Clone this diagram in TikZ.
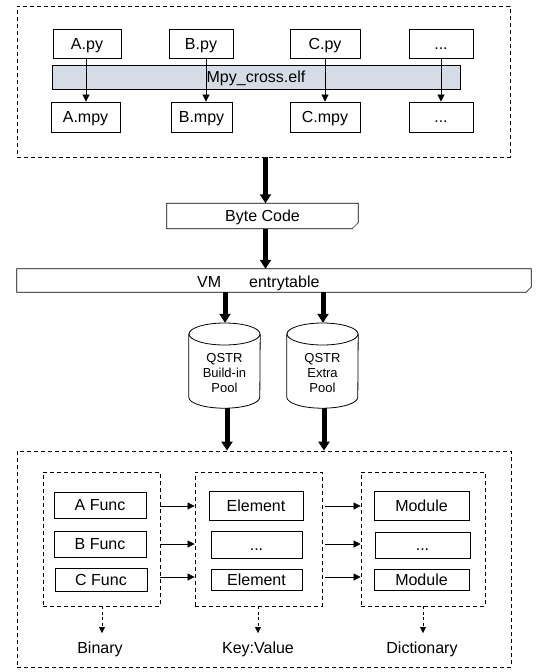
\documentclass[tikz,border=0pt]{standalone}
\usepackage{fontspec}
\setmainfont{Liberation Sans}
\usetikzlibrary{arrows.meta}
\definecolor{barfill}{HTML}{D6DCE5}
\tikzset{
  txt16/.style={font=\fontsize{16}{18}\selectfont, text height=11.5pt, text depth=0pt},
  box/.style={draw, line width=0.8pt, inner sep=0pt, txt16},
  dbox/.style={draw, dashed, dash pattern=on 4pt off 3pt, line width=0.8pt, inner sep=0pt},
  thin arrow/.style={line width=0.7pt, -{Triangle[width=7pt,length=7pt]}},
  thick arrow/.style={line width=5pt, -{Triangle[width=11pt,length=9pt]}},
  dash arrow/.style={line width=0.7pt, dash pattern=on 3pt off 2.5pt, -{Triangle[width=6pt,length=6pt]}},
  lbl/.style={txt16, inner sep=0pt},
  cyltxt/.style={font=\fontsize{13}{15}\selectfont, align=center, inner sep=0pt}
}
\newcommand{\bx}[6]{\node[box, minimum width=#4-#2, minimum height=#5-#3] (#1) at ({(#2+#4)/2},{(#3+#5)/2}) {#6};}
\newcommand{\dbx}[5]{\node[dbox, minimum width=#4-#2, minimum height=#5-#3] (#1) at ({(#2+#4)/2},{(#3+#5)/2}) {};}
\begin{document}
\begin{tikzpicture}[x=1pt,y=-1pt]
\useasboundingbox (0,0) rectangle (544,672);
% top group
\dbx{topgrp}{17}{6}{510}{157}
\node[draw, fill=barfill, line width=0.8pt, minimum width=408, minimum height=24, inner sep=0pt, txt16] (bar) at (256,77) {Mpy\_cross.elf};
\bx{apy}{53}{29}{121}{58}{A.py}
\bx{bpy}{169}{29}{233}{58}{B.py}
\bx{cpy}{290}{29}{360}{58}{C.py}
\bx{dpy}{409}{29}{473}{58}{...}
\bx{ampy}{51}{102}{120}{132}{A.mpy}
\bx{bmpy}{171}{102}{232}{132}{B.mpy}
\bx{cmpy}{290}{102}{360}{132}{C.mpy}
\bx{dmpy}{409}{102}{473}{132}{...}
\draw[thin arrow] (apy.south -| 86,0) -- (ampy.north -| 86,0);
\draw[thin arrow] (bpy.south -| 206,0) -- (bmpy.north -| 206,0);
\draw[thin arrow] (cpy.south -| 325,0) -- (cmpy.north -| 325,0);
\draw[thin arrow] (dpy.south -| 441,0) -- (dmpy.north -| 441,0);
% byte code
\node[inner sep=0pt, minimum width=191, minimum height=25, txt16] (bc) at (262.5,216) {Byte Code};
\draw[line width=0.8pt] (bc.north west) -- (bc.north east) -- ([yshift=6pt]bc.south east) -- ([xshift=-6pt]bc.south east) -- (bc.south west) -- cycle;
\fill[gray!60] ([yshift=6pt]bc.south east) -- ([xshift=-6pt]bc.south east) -- ([xshift=-2pt,yshift=3pt]bc.south east) -- cycle;
% entry table
\node[inner sep=0pt, minimum width=514, minimum height=23] (et) at (274,280.5) {};
\draw[line width=0.8pt] (et.north west) -- (et.north east) -- ([yshift=5pt]et.south east) -- ([xshift=-5pt]et.south east) -- (et.south west) -- cycle;
\fill[gray!60] ([yshift=5pt]et.south east) -- ([xshift=-5pt]et.south east) -- ([xshift=-1.5pt,yshift=2.5pt]et.south east) -- cycle;
\node[lbl, anchor=west] (ettxt) at (197,282) {VM\hspace{28pt}entrytable};
\draw[thick arrow] (topgrp.south -| 265.5,0) -- (bc.north -| 265.5,0);
\draw[thick arrow] (bc.south -| 265.5,0) -- (et.north -| 265.5,0);
% cylinders
\foreach \n/\cx/\t in {cyla/224.5/{QSTR\\Build-in\\Pool}, cylb/322.5/{QSTR\\Extra\\Pool}}{
  \node[inner sep=0pt, minimum width=71, minimum height=85] (\n) at (\cx,365.5) {};
  \draw[line width=0.8pt] (\cx,334) ellipse[x radius=35.5, y radius=11];
  \draw[line width=0.8pt] ([yshift=-11pt]\n.north west) -- ([yshift=11pt]\n.south west) arc[start angle=180, end angle=0, x radius=35.5, y radius=11] -- ([yshift=-11pt]\n.north east);
  \node[cyltxt] (\n txt) at (\cx,373) {\t};
}
\draw[thick arrow] (et.south -| 225,0) -- (cyla.north -| 225,0);
\draw[thick arrow] (et.south -| 323,0) -- (cylb.north -| 323,0);
% bottom group
\dbx{botgrp}{17}{451}{511}{667}
\draw[thick arrow] (cyla.south -| 227,0) -- (botgrp.north -| 227,0);
\draw[thick arrow] (cylb.south -| 324,0) -- (botgrp.north -| 324,0);
\dbx{g1}{43}{472}{160}{606}
\dbx{g2}{195}{472}{322}{606}
\dbx{g3}{361}{472}{485}{606}
\bx{af}{54}{492}{146}{518}{A Func}
\bx{bf}{54}{531}{146}{557}{B Func}
\bx{cf}{55}{568}{147}{591}{C Func}
\bx{e1}{209}{491}{303}{520}{Element}
\bx{e2}{211}{531}{302}{558}{...}
\bx{e3}{211}{569}{302}{590}{Element}
\bx{m1}{374}{491}{469}{520}{Module}
\bx{m2}{375}{532}{470}{558}{...}
\bx{m3}{374}{569}{469}{590}{Module}
\foreach \y in {506,544,577}{
  \draw[thin arrow] (g1.east |- 0,\y) -- (g2.west |- 0,\y);
  \draw[thin arrow] (g2.east |- 0,\y) ++(3,0) -- (g3.west |- 0,\y);
}
\node[lbl] (bin) at (100,648) {Binary};
\node[lbl] (kv) at (258,648) {Key:Value};
\node[lbl] (dict) at (422,648) {Dictionary};
\draw[dash arrow] (g1.south -| 102,0) -- ([yshift=9pt]bin.north -| 102,0);
\draw[dash arrow] (g2.south -| 258,0) -- ([yshift=9pt]kv.north -| 258,0);
\draw[dash arrow] (g3.south -| 423,0) -- ([yshift=9pt]dict.north -| 423,0);
\end{tikzpicture}
\end{document}
